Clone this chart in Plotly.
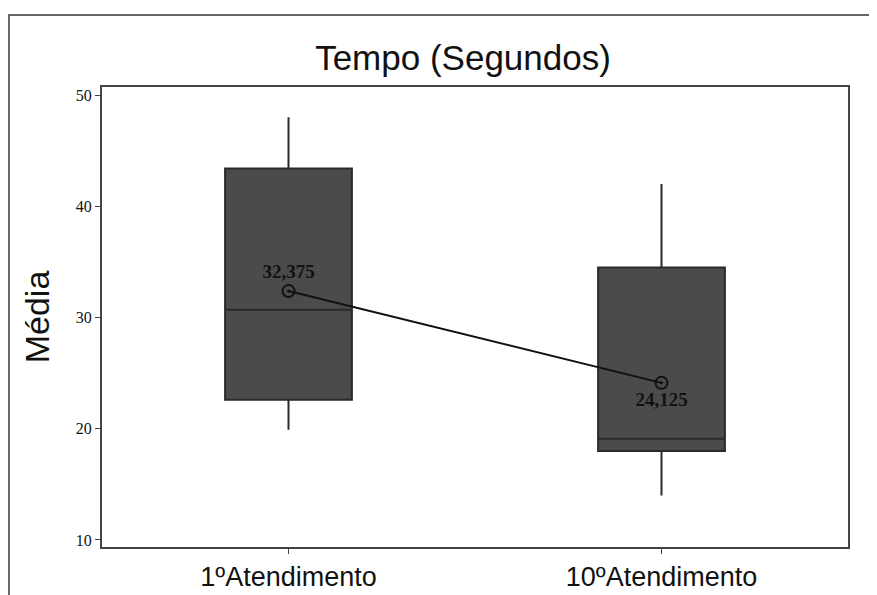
import plotly.graph_objects as go

categories = ["1ºAtendimento", "10ºAtendimento"]
q1 = [22.6, 18.0]
median = [30.7, 19.1]
q3 = [43.4, 34.5]
lower_whisker = [19.9, 14.0]
upper_whisker = [48.0, 42.0]
means = [32.375, 24.125]
mean_labels = ["<b>32,375</b>", "<b>24,125</b>"]
y_ticks = [10, 20, 30, 40, 50]

fig = go.Figure()
fig.add_trace(go.Box(
    x=categories, q1=q1, median=median, q3=q3,
    lowerfence=lower_whisker, upperfence=upper_whisker,
    width=0.34, fillcolor="#4b4b4b", line=dict(color="#2a2a2a", width=2),
    whiskerwidth=0, boxpoints=False, showlegend=False, hoverinfo="skip",
))
fig.add_trace(go.Scatter(
    x=categories, y=means, mode="lines+markers+text",
    text=mean_labels, textposition=["top center", "bottom center"],
    textfont=dict(family="Liberation Serif", size=19, color="#111"),
    line=dict(color="#111", width=2),
    marker=dict(symbol="circle-open-dot", size=12, color="#111", line=dict(width=2)),
    showlegend=False, hoverinfo="skip",
))

fig.update_layout(
    width=869, height=587,
    margin=dict(l=94, r=29, t=79, b=48, autoexpand=False),
    paper_bgcolor="white", plot_bgcolor="white",
    title=dict(text="Tempo (Segundos)", x=0.5236, xanchor="center", y=0.9148, yanchor="middle",
               font=dict(family="Liberation Sans", size=35, color="#111")),
    shapes=[
        dict(type="line", xref="paper", yref="paper", x0=-0.126, x1=1.05, y0=1.1565, y1=1.1565,
             line=dict(color="#666", width=2)),
        dict(type="line", xref="paper", yref="paper", x0=-0.1247, x1=-0.1247, y0=-0.2, y1=1.1565,
             line=dict(color="#666", width=2)),
    ],
)
fig.update_xaxes(
    type="category", range=[-0.5, 1.5], showline=True, mirror=True, linecolor="#444", linewidth=2,
    ticks="outside", ticklen=5, tickcolor="#444", showgrid=False, automargin=False,
    tickfont=dict(family="Liberation Sans", size=27, color="#111"),
)
fig.update_yaxes(
    range=[9.37, 50.72], tickvals=y_ticks, showline=True, mirror=True, linecolor="#444", linewidth=2,
    ticks="outside", ticklen=5, tickcolor="#444", showgrid=False, zeroline=False, automargin=False,
    tickfont=dict(family="Liberation Serif", size=16, color="#111"),
    title=dict(text="Média", font=dict(family="Liberation Sans", size=34, color="#111"), standoff=16),
)
fig.write_html("out.html")
